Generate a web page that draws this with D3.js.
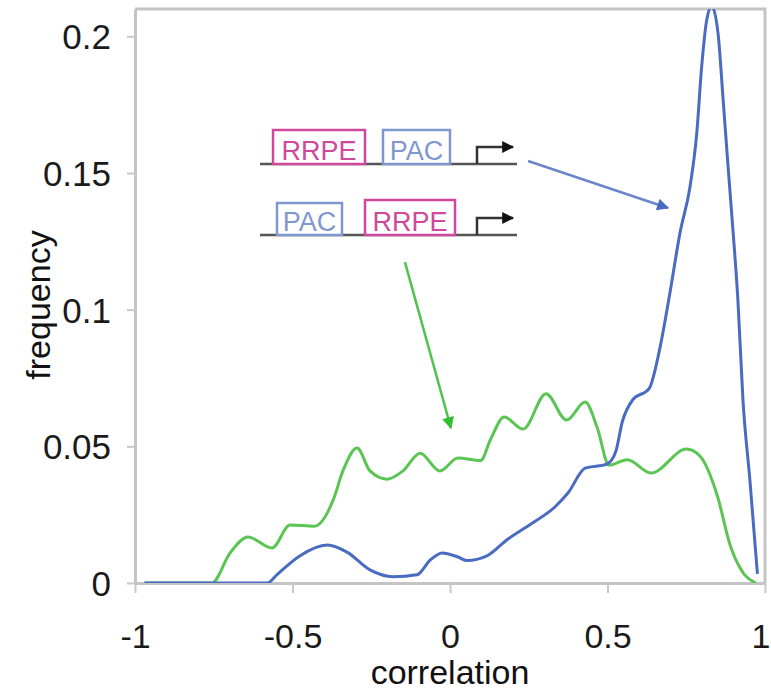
<!DOCTYPE html>
<html>
<head>
<meta charset="utf-8">
<script src="https://cdn.jsdelivr.net/npm/d3@7"></script>
<style>
  body { margin: 0; background: #fff; }
  text { font-family: "Liberation Sans", Arial, sans-serif; }
</style>
</head>
<body>
<div id="chart"></div>
<script>
// correlation values (x) and frequencies
const blueX = [-0.97, -0.58, -0.55, -0.476, -0.39, -0.327, -0.254, -0.18, -0.105, -0.063, -0.025,
  0.025, 0.054, 0.117, 0.183, 0.257, 0.333, 0.375, 0.429, 0.498, 0.526, 0.547, 0.58, 0.632,
  0.667, 0.698, 0.73, 0.762, 0.783, 0.799, 0.815, 0.831, 0.851, 0.867, 0.883, 0.899, 0.914,
  0.93, 0.952, 0.976];
const blueY = [0, 0, 0.003, 0.01, 0.0139, 0.0113, 0.0048, 0.0023, 0.003, 0.0084, 0.011,
  0.0095, 0.0082, 0.0099, 0.016, 0.0216, 0.0278, 0.033, 0.042, 0.0435, 0.048, 0.059, 0.067, 0.0711,
  0.0863, 0.106, 0.128, 0.145, 0.164, 0.189, 0.206, 0.211, 0.201, 0.177, 0.152, 0.128, 0.1035,
  0.067, 0.0377, 0.0033];

const greenX = [-0.97, -0.756, -0.698, -0.641, -0.565, -0.508, -0.43, -0.371, -0.34, -0.295, -0.254,
  -0.2, -0.149, -0.095, -0.032, 0.025, 0.097, 0.129, 0.172, 0.232, 0.305, 0.37, 0.429, 0.467,
  0.505, 0.563, 0.638, 0.751, 0.794, 0.848, 0.89, 0.933, 0.971];
const greenY = [0, 0, 0.011, 0.0168, 0.0128, 0.0212, 0.0208, 0.0303, 0.041, 0.0494, 0.041,
  0.038, 0.041, 0.0475, 0.041, 0.0457, 0.0448, 0.0526, 0.0607, 0.0563, 0.0692, 0.0596, 0.0662, 0.057,
  0.0431, 0.0451, 0.0402, 0.049, 0.0464, 0.0322, 0.0136, 0.0033, 0];

const xTicks = [-1, -0.5, 0, 0.5, 1];
const yTicks = [0, 0.05, 0.1, 0.15, 0.2];

// annotation arrows, in data units: [x1, y1, x2, y2]
const blueArrow = [0.248, 0.1544, 0.692, 0.1372];
const greenArrow = [-0.143, 0.1174, 0.003, 0.0567];

const width = 771;
const height = 691;
const blue = '#4a6bc2';
const green = '#5bc554';
const pink = '#d0489c';
const paleBlue = '#7f97cf';

const svg = d3.select('#chart')
  .append('svg')
  .attr('width', width)
  .attr('height', height);

const x = d3.scaleLinear().domain([-1, 1]).range([135, 765]);
const y = d3.scaleLinear().domain([0, 0.21]).range([583, 9]);

svg.append('clipPath')
  .attr('id', 'plot')
  .append('rect')
  .attr('x', x(-1))
  .attr('y', y(0.21))
  .attr('width', x(1) - x(-1))
  .attr('height', y(0) - y(0.21));

// frame: top and right borders
svg.append('path')
  .attr('d', `M${x(-1)},${y(0.21)}H${x(1)}V${y(0)}`)
  .attr('fill', 'none')
  .attr('stroke', '#c4c4c4')
  .attr('stroke-width', 3);

const xAxis = svg.append('g')
  .attr('transform', `translate(0,${y(0)})`)
  .call(d3.axisBottom(x).tickValues(xTicks).tickSize(10).tickSizeOuter(0).tickFormat(d => String(d)));
xAxis.selectAll('text')
  .attr('y', 65)
  .attr('dy', 0)
  .attr('font-size', 34)
  .attr('fill', '#1a1a1a');
// last label sits against the right edge
xAxis.selectAll('.tick text')
  .filter(d => d === 1)
  .attr('text-anchor', 'end')
  .attr('x', 5);

const yAxis = svg.append('g')
  .attr('transform', `translate(${x(-1)},0)`)
  .call(d3.axisLeft(y).tickValues(yTicks).tickSize(8).tickSizeOuter(0).tickFormat(d => String(d)));
yAxis.selectAll('text')
  .attr('x', -24)
  .attr('dy', '0.36em')
  .attr('font-size', 35)
  .attr('fill', '#1a1a1a');

[xAxis, yAxis].forEach(a => {
  a.select('.domain').attr('stroke', '#c4c4c4').attr('stroke-width', 3);
  a.selectAll('.tick line').attr('stroke', '#c8c8c8').attr('stroke-width', 2);
  a.attr('font-family', null);
});

svg.append('text')
  .attr('x', x(0))
  .attr('y', 684)
  .attr('text-anchor', 'middle')
  .attr('font-size', 34)
  .attr('fill', '#111')
  .text('correlation');

svg.append('text')
  .attr('transform', `translate(50,305) rotate(-90)`)
  .attr('text-anchor', 'middle')
  .attr('font-size', 34)
  .attr('fill', '#111')
  .text('frequency');

const line = d3.line()
  .x(d => x(d[0]))
  .y(d => y(d[1]))
  .curve(d3.curveMonotoneX);

const curves = svg.append('g').attr('clip-path', 'url(#plot)');
curves.append('path')
  .datum(d3.zip(greenX, greenY))
  .attr('d', line)
  .attr('fill', 'none')
  .attr('stroke', green)
  .attr('stroke-width', 3);
curves.append('path')
  .datum(d3.zip(blueX, blueY))
  .attr('d', line)
  .attr('fill', 'none')
  .attr('stroke', blue)
  .attr('stroke-width', 3);

// arrowheads
const defs = svg.append('defs');
[['head-blue', blue], ['head-green', '#2fbf2f'], ['head-black', '#111']].forEach(([id, c]) => {
  defs.append('marker')
    .attr('id', id)
    .attr('viewBox', '0 0 10 10')
    .attr('refX', 9)
    .attr('refY', 5)
    .attr('markerUnits', 'userSpaceOnUse')
    .attr('markerWidth', 14)
    .attr('markerHeight', 12)
    .attr('orient', 'auto')
    .append('path')
    .attr('d', 'M0,0L10,5L0,10Z')
    .attr('fill', c);
});

svg.append('line')
  .attr('x1', x(blueArrow[0])).attr('y1', y(blueArrow[1]))
  .attr('x2', x(blueArrow[2])).attr('y2', y(blueArrow[3]))
  .attr('stroke', '#6a86c8')
  .attr('stroke-width', 2.5)
  .attr('marker-end', 'url(#head-blue)');

svg.append('line')
  .attr('x1', x(greenArrow[0])).attr('y1', y(greenArrow[1]))
  .attr('x2', x(greenArrow[2])).attr('y2', y(greenArrow[3]))
  .attr('stroke', '#4cc44c')
  .attr('stroke-width', 2.5)
  .attr('marker-end', 'url(#head-green)');

// promoter diagrams
const rows = [
  { base: 164, boxes: [
    { label: 'RRPE', x0: 273, x1: 365, top: 130, color: pink },
    { label: 'PAC', x0: 383, x1: 450, top: 130, color: paleBlue }] },
  { base: 235, boxes: [
    { label: 'PAC', x0: 277, x1: 342, top: 203, color: paleBlue },
    { label: 'RRPE', x0: 365, x1: 455, top: 200, color: pink }] }
];

rows.forEach(r => {
  const g = svg.append('g');
  g.append('line')
    .attr('x1', 260).attr('x2', 517)
    .attr('y1', r.base).attr('y2', r.base)
    .attr('stroke', '#555')
    .attr('stroke-width', 2.5);
  r.boxes.forEach(b => {
    g.append('rect')
      .attr('x', b.x0).attr('y', b.top)
      .attr('width', b.x1 - b.x0).attr('height', r.base - b.top)
      .attr('fill', '#fff')
      .attr('stroke', b.color)
      .attr('stroke-width', 2.5);
    g.append('text')
      .attr('x', (b.x0 + b.x1) / 2)
      .attr('y', r.base - 4)
      .attr('text-anchor', 'middle')
      .attr('font-size', 27)
      .attr('fill', b.color)
      .text(b.label);
  });
  g.append('path')
    .attr('d', `M477,${r.base}V${r.base - 17}H513`)
    .attr('fill', 'none')
    .attr('stroke', '#333')
    .attr('stroke-width', 2.5)
    .attr('marker-end', 'url(#head-black)');
});
</script>
</body>
</html>
